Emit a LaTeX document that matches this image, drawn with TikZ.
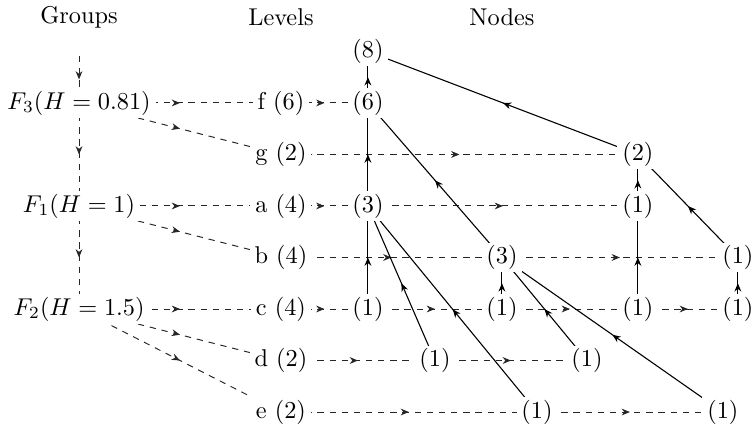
\documentclass[tikz,border=0pt]{standalone}
\usepackage{tikz}
\usetikzlibrary{arrows.meta, positioning, decorations.markings, backgrounds}
\tikzset{
  nodo/.style={fill=white, inner xsep=2pt, inner ysep=1pt},
  titulo/.style={inner sep=0pt},
  flecha/.style={postaction={decorate}, decoration={markings,
    mark=at position 0.5 with {\arrow{Stealth[length=3.4pt, width=2.8pt]}}}},
  arbol/.style={flecha, line width=0.45pt, color=black},
  nivel/.style={flecha, line width=0.4pt, color=black!85,
    dash pattern=on 2.6pt off 2.4pt}
}

\begin{document}
\begin{tikzpicture}[node distance=0.745cm, on grid]
  \useasboundingbox (0,0) rectangle (10.89,6.16);
  % niveles
  \node[nodo] (f) at (4.063,4.671) {f (6)};
  \node[nodo, below=of f] (g) {g (2)};
  \node[nodo, below=of g] (a) {a (4)};
  \node[nodo, below=of a] (b) {b (4)};
  \node[nodo, below=of b] (c) {c (4)};
  \node[nodo, below=of c] (d) {d (2)};
  \node[nodo, below=of d] (e) {e (2)};
  % grupos
  \node[nodo, left=2.92cm of f] (F3) {$F_3(H=0.81)$};
  \node[nodo, left=2.92cm of a] (F1) {$F_1(H=1)$};
  \node[nodo, left=2.92cm of c] (F2) {$F_2(H=1.5)$};
  \coordinate[above=0.68cm of F3] (arriba);
  % titulos
  \node[titulo, above=1.244cm of f] (niveles) {Levels};
  \node[titulo, left=2.92cm of niveles] (grupos) {Groups};
  \node[titulo, right=3.196cm of niveles] (nodos) {Nodes};
  % nodos por fila
  \node[nodo, right=1.258cm of f] (n6) {(6)};
  \node[nodo, above=of n6] (n8) {(8)};
  \node[nodo, right=5.162cm of g] (g2) {(2)};
  \node[nodo, right=1.258cm of a] (a3) {(3)};
  \node[nodo, right=5.162cm of a] (a1) {(1)};
  \node[nodo, right=3.196cm of b] (b3) {(3)};
  \node[nodo, right=6.608cm of b] (b1) {(1)};
  \node[nodo, right=1.258cm of c] (c1) {(1)};
  \node[nodo, right=3.196cm of c] (c2) {(1)};
  \node[nodo, right=5.162cm of c] (c3) {(1)};
  \node[nodo, right=6.608cm of c] (c4) {(1)};
  \node[nodo, right=2.227cm of d] (d1) {(1)};
  \node[nodo, right=4.425cm of d] (d2) {(1)};
  \node[nodo, right=3.702cm of e] (e1) {(1)};
  \node[nodo, right=6.391cm of e] (e2) {(1)};

  \begin{pgfonlayer}{background}
    % grupos
    \draw[nivel] (arriba) -- (F3.center);
    \draw[nivel] (F3.center) -- (F1.center);
    \draw[nivel] (F1.center) -- (F2.center);
    \draw[nivel] (F3.center) -- (f.center);
    \draw[nivel] (F3.center) -- (g.center);
    \draw[nivel] (F1.center) -- (a.center);
    \draw[nivel] (F1.center) -- (b.center);
    \draw[nivel] (F2.center) -- (c.center);
    \draw[nivel] (F2.center) -- (d.center);
    \draw[nivel] (F2.center) -- (e.center);
    % filas
    \draw[nivel] (f.center) -- (n6.center);
    \draw[nivel] (g.center) -- (g2.center);
    \draw[nivel] (a.center) -- (a3.center);
    \draw[nivel] (a3.center) -- (a1.center);
    \draw[nivel] (b.center) -- (b3.center);
    \draw[nivel] (b3.center) -- (b1.center);
    \draw[nivel] (c.center) -- (c1.center);
    \draw[nivel] (c1.center) -- (c2.center);
    \draw[nivel] (c2.center) -- (c3.center);
    \draw[nivel] (c3.center) -- (c4.center);
    \draw[nivel] (d.center) -- (d1.center);
    \draw[nivel] (d1.center) -- (d2.center);
    \draw[nivel] (e.center) -- (e1.center);
    \draw[nivel] (e1.center) -- (e2.center);
    % arbol
    \draw[arbol] (n6.center) -- (n8.center);
    \draw[arbol] (g2.center) -- (n8.center);
    \draw[arbol] (a3.center) -- (n6.center);
    \draw[arbol] (b3.center) -- (n6.center);
    \draw[arbol] (a1.center) -- (g2.center);
    \draw[arbol] (b1.center) -- (g2.center);
    \draw[arbol] (c1.center) -- (a3.center);
    \draw[arbol] (d1.center) -- (a3.center);
    \draw[arbol] (e1.center) -- (a3.center);
    \draw[arbol] (c2.center) -- (b3.center);
    \draw[arbol] (d2.center) -- (b3.center);
    \draw[arbol] (e2.center) -- (b3.center);
    \draw[arbol] (c3.center) -- (a1.center);
    \draw[arbol] (c4.center) -- (b1.center);
  \end{pgfonlayer}
\end{tikzpicture}
\end{document}
